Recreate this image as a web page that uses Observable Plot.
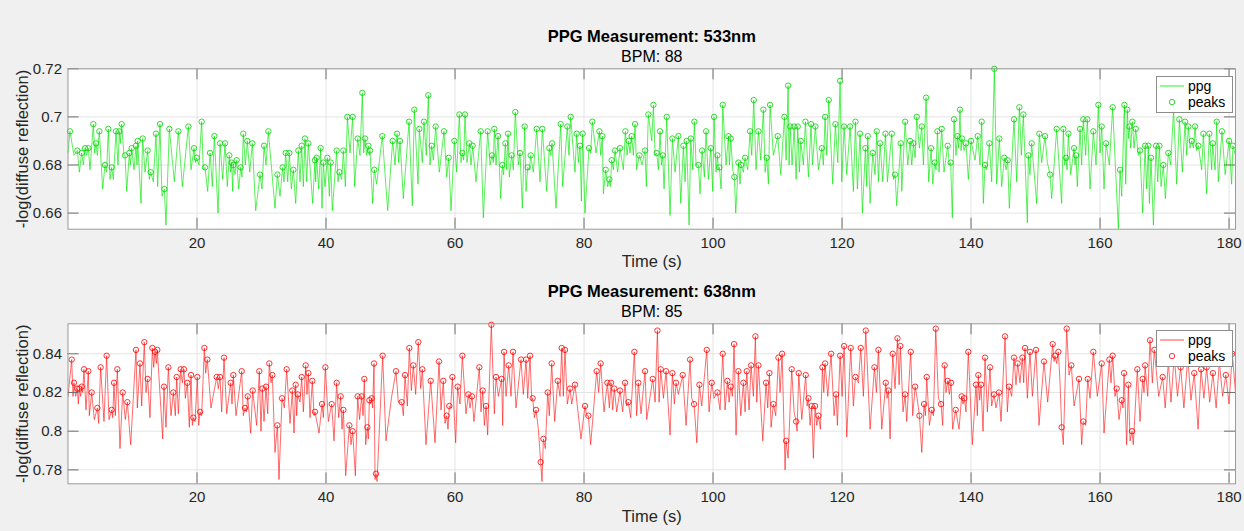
<!DOCTYPE html>
<html><head><meta charset="utf-8">
<script src="https://cdn.jsdelivr.net/npm/d3@7"></script>
<script src="https://cdn.jsdelivr.net/npm/@observablehq/plot@0.6"></script>
<style>
html,body{margin:0;padding:0;background:#f0f0f0;}
#wrap{position:relative;width:1244px;height:531px;background:#f0f0f0;overflow:hidden;}
#wrap > svg{position:absolute;left:0;}
</style></head><body><div id="wrap"></div>
<script>
// ---------- tick labels / text ----------
const xTicks = [20, 40, 60, 80, 100, 120, 140, 160, 180];
const yTicks533 = [0.66, 0.68, 0.70, 0.72];
const yTicks638 = [0.78, 0.80, 0.82, 0.84];
const titles = ["PPG Measurement: 533nm", "PPG Measurement: 638nm"];
const subtitles = ["BPM: 88", "BPM: 85"];
const xLabel = "Time (s)";
const yLabel = "-log(diffuse reflection)";
const legendNames = ["ppg", "peaks"];

// ---------- 533 nm : detected peaks ----------
const peakTime533 = [0.30,1.45,2.12,2.64,3.15,3.93,4.34,4.86,5.74,6.25,6.77,7.44,7.96,8.32,8.84,9.51,9.87,10.54,10.80,11.58,12.35,12.82,13.64,14.26,14.94,15.71,17.11,18.66,19.54,19.95,20.72,21.24,22.02,22.69,23.57,24.34,25.01,25.37,25.63,26.15,26.77,27.18,27.80,28.58,29.77,30.39,31.06,32.46,33.28,33.75,34.32,34.94,35.71,36.23,36.74,37.26,38.29,38.55,39.17,39.59,40.21,40.72,41.65,42.07,42.69,43.31,44.13,44.91,
45.63,46.05,46.56,46.82,47.49,48.73,50.33,51.01,51.47,52.87,53.69,54.47,55.19,55.86,56.38,57.00,58.29,59.02,59.90,60.67,61.14,61.55,62.22,62.74,63.98,65.06,65.74,66.10,66.67,67.34,67.80,68.22,68.78,69.35,70.08,70.80,71.27,71.73,72.66,73.54,74.62,75.04,76.38,77.41,77.93,78.86,79.38,79.79,80.77,81.29,82.38,82.84,83.36,83.93,84.29,84.81,85.58,86.41,86.92,87.39,87.91,88.58,89.46,89.97,
90.76,91.27,91.79,92.20,92.82,93.70,94.63,95.41,95.92,96.55,97.11,97.73,98.30,98.92,99.65,100.16,100.68,100.99,101.51,102.38,102.75,103.31,103.94,104.35,104.97,105.74,106.31,107.04,107.81,108.33,108.84,110.03,111.07,111.64,111.95,112.57,113.13,113.60,114.32,115.20,115.87,116.86,117.37,117.94,118.97,119.70,120.32,121.25,122.08,122.80,123.63,123.99,124.76,125.38,125.90,126.73,127.71,128.22,129.10,129.78,130.55,131.07,131.58,132.36,133.03,133.81,134.37,134.79,
135.45,136.38,136.84,137.36,137.88,138.29,138.60,139.22,140.00,141.03,141.65,142.17,142.84,143.61,144.39,145.16,145.68,146.66,147.49,148.11,148.89,149.40,150.59,151.47,152.25,153.28,154.31,154.73,155.09,155.97,156.28,156.90,157.41,158.03,158.96,159.74,160.26,160.93,161.96,163.10,163.77,164.23,164.55,165.01,165.53,166.20,166.98,167.49,167.90,168.68,169.20,169.82,170.59,171.40,172.30,173.18,173.69,174.21,174.73,175.24,176.02,176.95,177.47,178.09,178.90,180.00,180.60];
const peakValue533 = [.694,.686,.685,.687,.687,.697,.689,.694,.680,.695,.679,.694,.694,.697,.684,.685,.687,.688,.690,.691,.686,.677,.693,.697,.670,.695,.694,.696,.687,.683,.698,.679,.685,.692,.689,.689,.684,.681,.680,.682,.679,.693,.690,.689,.676,.688,.694,.676,.679,.685,.685,.678,.686,.688,.691,.689,.682,.683,.687,.681,.683,.681,.686,.677,.686,.700,.700,.691,
.710,.691,.688,.686,.678,.692,.690,.693,.690,.698,.703,.695,.698,.709,.688,.696,.694,.683,.690,.701,.685,.701,.689,.688,.694,.694,.684,.695,.692,.680,.689,.693,.684,.702,.685,.696,.679,.684,.695,.695,.687,.689,.697,.696,.700,.693,.688,.693,.687,.698,.694,.692,.678,.674,.682,.686,.687,.694,.690,.692,.697,.684,.686,.701,
.705,.685,.694,.684,.700,.691,.692,.688,.690,.691,.698,.680,.686,.694,.687,.700,.684,.679,.705,.692,.691,.675,.681,.680,.683,.694,.707,.694,.703,.683,.705,.692,.700,.713,.696,.696,.696,.690,.698,.697,.696,.687,.700,.707,.697,.715,.696,.696,.698,.693,.687,.692,.685,.694,.689,.693,.693,.676,.689,.698,.690,.689,.700,.696,.708,.687,.681,.694,
.695,.688,.681,.699,.692,.703,.691,.689,.690,.692,.698,.680,.689,.720,.691,.683,.682,.699,.704,.701,.684,.689,.693,.692,.676,.695,.695,.683,.693,.687,.684,.695,.699,.699,.694,.705,.696,.689,.704,.678,.705,.703,.696,.698,.695,.686,.688,.688,.683,.688,.688,.680,.685,.703,.699,.698,.696,.690,.696,.688,.693,.693,.689,.698,.694,.690,.688];

// ---------- 533 nm : valleys between peaks ----------
const valleyTime533 = [0.00,0.93,1.76,2.38,2.89,3.41,4.13,4.55,5.37,5.99,6.51,7.03,7.75,8.11,8.68,9.10,9.66,10.23,10.70,11.32,11.94,12.61,13.23,13.90,14.57,15.19,16.49,17.73,19.07,19.74,20.31,20.98,21.65,22.38,23.26,23.98,24.70,25.22,25.53,25.89,26.46,26.98,27.49,28.17,29.10,30.08,30.70,32.09,32.87,33.49,34.06,34.63,35.30,35.97,36.49,37.00,37.93,38.40,38.86,39.38,39.84,40.52,40.98,41.86,42.43,43.00,43.72,44.44,
45.27,45.84,46.30,46.72,47.23,47.85,49.56,50.70,51.27,51.99,53.38,54.26,54.93,55.55,56.12,56.64,57.57,58.71,59.38,60.26,60.93,61.34,61.86,62.48,63.25,64.39,65.43,65.94,66.36,67.08,67.54,68.01,68.42,69.04,69.82,70.44,71.01,71.52,72.14,73.18,74.21,74.83,75.66,76.69,77.67,78.60,79.12,79.59,80.15,81.03,81.86,82.58,83.00,83.67,84.08,84.55,85.22,86.10,86.67,87.13,87.65,88.16,88.99,89.66,
90.50,91.02,91.53,92.00,92.41,93.34,94.12,95.00,95.67,96.29,96.85,97.37,97.99,98.66,99.28,99.96,100.47,100.83,101.25,102.02,102.54,103.06,103.52,104.19,104.71,105.38,106.00,106.67,107.40,108.07,108.59,109.36,110.50,111.33,111.79,112.26,112.88,113.39,114.01,114.79,115.41,116.34,117.11,117.63,118.56,119.34,119.96,120.73,121.76,122.38,123.16,123.83,124.35,125.12,125.64,126.31,127.04,127.97,128.48,129.26,130.19,130.81,131.33,132.00,132.62,133.44,134.07,134.58,
135.04,135.81,136.64,137.10,137.67,138.08,138.45,138.91,139.58,140.62,141.39,141.91,142.43,143.20,143.98,144.75,145.42,145.94,147.08,147.80,148.73,149.14,150.18,150.95,151.83,152.50,154.05,154.52,154.88,155.45,156.12,156.48,157.15,157.77,158.45,159.38,160.00,160.62,161.44,162.84,163.36,163.98,164.39,164.75,165.27,165.94,166.61,167.23,167.65,168.27,168.94,169.46,170.13,170.95,171.88,172.76,173.43,173.95,174.47,174.98,175.76,176.53,177.31,177.83,178.34,179.40,180.40,181.00];
const valleyValue533 = [.685,.684,.677,.680,.684,.678,.685,.684,.670,.677,.674,.674,.680,.689,.684,.669,.680,.678,.680,.664,.677,.674,.673,.671,.667,.655,.673,.671,.678,.681,.680,.678,.669,.671,.660,.674,.671,.677,.669,.676,.670,.675,.680,.677,.661,.670,.680,.662,.667,.673,.673,.670,.664,.673,.671,.673,.664,.673,.670,.662,.671,.667,.661,.673,.674,.671,.685,.671,
.684,.685,.684,.684,.664,.672,.661,.680,.681,.666,.663,.672,.681,.684,.680,.682,.677,.675,.661,.677,.681,.682,.681,.680,.673,.658,.680,.681,.680,.666,.676,.678,.675,.678,.680,.662,.669,.678,.677,.673,.669,.684,.662,.671,.684,.677,.681,.665,.660,.685,.685,.684,.668,.671,.671,.678,.677,.678,.684,.685,.684,.678,.680,.671,
.690,.684,.678,.680,.670,.659,.677,.664,.673,.655,.678,.680,.668,.675,.674,.669,.677,.678,.670,.680,.680,.678,.660,.672,.677,.678,.684,.678,.682,.677,.672,.684,.676,.682,.680,.680,.674,.677,.680,.675,.680,.678,.680,.684,.672,.681,.673,.676,.669,.670,.660,.671,.664,.676,.673,.673,.673,.674,.663,.669,.680,.680,.683,.687,.680,.673,.672,.678,
.677,.677,.680,.658,.684,.687,.686,.686,.674,.682,.680,.664,.678,.673,.672,.671,.678,.662,.673,.684,.656,.676,.664,.681,.681,.666,.664,.680,.678,.676,.680,.671,.680,.684,.670,.680,.685,.670,.680,.653,.667,.672,.691,.687,.687,.684,.660,.670,.664,.655,.673,.671,.666,.680,.672,.677,.684,.687,.687,.686,.678,.668,.678,.678,.673,.676,.672,.684];

// ---------- 638 nm : detected peaks ----------
const peakTime638 = [0.57,0.93,1.45,1.76,2.12,2.48,3.15,3.67,4.55,5.06,5.99,6.77,7.13,7.65,8.48,9.20,10.54,11.16,11.83,12.35,13.08,13.49,13.85,14.88,15.56,16.33,16.85,17.47,17.98,18.50,19.07,19.43,20.05,20.47,21.14,21.60,23.05,23.57,24.19,25.22,25.63,26.93,27.44,27.86,28.63,29.66,30.13,30.70,31.21,31.68,32.46,33.18,33.90,34.78,35.30,35.61,36.23,36.85,37.26,37.88,38.29,39.38,39.90,40.88,41.65,42.27,42.69,43.62,44.13,44.91,
45.53,45.94,46.41,46.72,47.08,47.44,47.75,48.78,50.85,51.73,52.25,52.92,53.54,54.31,54.93,56.23,57.52,58.19,58.71,59.12,59.59,60.41,61.14,62.07,62.63,63.77,64.29,64.81,65.63,66.36,67.23,67.60,68.32,68.99,70.23,71.01,71.63,72.04,72.56,73.28,73.70,74.37,74.99,75.92,76.54,77.05,77.83,78.60,80.15,80.67,81.96,82.58,83.62,84.19,84.70,85.58,86.36,86.87,87.80,88.42,89.46,
90.65,91.38,91.89,92.72,93.70,94.27,95.30,96.44,97.06,97.89,99.03,99.80,100.68,101.51,102.23,102.75,103.26,103.94,104.71,105.23,105.90,106.57,107.04,108.22,108.74,109.36,110.14,110.71,111.33,112.20,112.88,113.29,114.37,114.79,115.30,115.82,116.34,116.96,117.37,118.30,119.08,119.70,120.32,121.35,122.08,122.90,123.68,125.02,125.64,126.78,127.19,127.86,128.59,129.05,129.78,130.65,131.33,132.00,132.72,133.13,133.91,134.53,
135.35,135.91,136.38,136.90,137.62,138.55,138.96,139.58,140.77,141.13,141.55,142.17,142.94,143.56,144.34,145.27,145.89,146.66,147.23,147.96,148.37,149.14,150.07,151.31,152.66,153.02,153.54,154.05,154.83,155.55,156.74,157.41,158.09,158.96,160.26,161.44,161.96,162.58,163.36,163.72,164.39,164.96,165.78,166.61,166.98,167.75,168.42,169.71,170.60,171.50,172.50,173.60,174.60,175.66,176.53,177.50,178.50,179.50,180.50];
const peakValue638 = [.837,.825,.822,.822,.823,.832,.831,.820,.812,.833,.839,.811,.825,.832,.820,.815,.842,.835,.846,.827,.843,.841,.842,.823,.833,.820,.828,.832,.832,.825,.829,.807,.828,.810,.843,.837,.828,.828,.838,.825,.829,.831,.812,.818,.821,.831,.822,.823,.835,.829,.803,.817,.832,.821,.824,.819,.828,.834,.830,.826,.810,.814,.833,.814,.825,.818,.811,.803,.800,.818,
.818,.827,.802,.816,.817,.835,.778,.839,.831,.815,.829,.843,.834,.846,.832,.826,.836,.826,.808,.813,.828,.823,.839,.819,.818,.833,.821,.813,.855,.828,.827,.841,.834,.841,.837,.837,.839,.817,.811,.784,.796,.820,.835,.826,.843,.842,.822,.824,.813,.808,.831,.835,.825,.825,.822,.821,.825,.815,.841,.825,.831,
.827,.852,.832,.831,.830,.825,.829,.837,.814,.824,.842,.825,.820,.840,.826,.823,.845,.831,.825,.831,.834,.849,.834,.825,.830,.814,.838,.840,.795,.832,.805,.830,.829,.817,.813,.813,.808,.833,.835,.840,.819,.839,.844,.843,.828,.843,.852,.833,.842,.825,.821,.840,.848,.844,.819,.841,.823,.808,.814,.828,.811,.853,
.814,.834,.826,.825,.811,.818,.817,.841,.824,.829,.824,.838,.833,.819,.820,.849,.823,.838,.835,.838,.843,.841,.842,.836,.845,.839,.841,.802,.853,.834,.827,.805,.827,.841,.835,.837,.839,.822,.816,.830,.824,.800,.832,.827,.834,.847,.842,.828,.836,.839,.833,.838,.830,.832,.833,.830,.836,.829,.840];

// ---------- 638 nm : valleys between peaks ----------
const valleyTime638 = [0.00,0.78,1.19,1.60,1.96,2.27,2.79,3.31,4.08,4.75,5.58,6.36,6.93,7.34,8.06,8.89,9.72,10.75,11.42,12.09,12.71,13.28,13.70,14.68,15.19,15.97,16.64,17.11,17.73,18.19,18.81,19.28,19.69,20.26,20.72,21.34,22.17,23.31,23.82,24.60,25.43,26.05,27.18,27.65,28.32,29.25,29.92,30.39,30.96,31.47,32.09,32.71,33.54,34.42,35.04,35.45,35.97,36.49,37.05,37.52,38.14,38.92,39.59,40.36,41.24,41.96,42.48,43.05,43.88,44.55,45.20,
45.74,46.15,46.56,46.87,47.23,47.60,47.91,49.30,50.18,51.21,51.99,52.61,53.23,53.90,54.68,55.50,56.90,57.83,58.45,58.91,59.33,60.10,60.77,61.70,62.32,62.94,64.03,64.55,65.06,66.10,66.72,67.39,67.91,68.68,69.46,70.59,71.27,71.89,72.30,72.92,73.49,74.00,74.62,75.45,76.28,76.79,77.41,78.09,79.53,80.41,81.03,82.27,83.10,83.93,84.44,85.06,85.99,86.61,87.23,88.16,88.84,89.72,
91.02,91.64,92.31,93.34,94.01,94.63,95.82,96.70,97.48,98.25,99.39,100.16,101.09,101.87,102.49,103.01,103.57,104.30,104.97,105.59,106.26,106.78,107.71,108.48,109.00,109.72,110.40,111.17,111.64,112.57,113.03,113.76,114.58,115.05,115.56,116.08,116.65,117.17,117.79,118.77,119.28,120.01,120.73,121.76,122.54,123.31,124.35,125.33,126.16,126.98,127.45,128.22,128.85,129.46,130.03,130.96,131.64,132.36,132.93,133.55,134.17,134.94,
135.60,136.12,136.64,137.15,138.14,138.76,139.22,140.20,140.98,141.34,141.86,142.53,143.20,143.87,144.65,145.63,146.30,146.97,147.59,148.16,148.73,149.51,150.54,151.88,152.87,153.28,153.80,154.31,155.19,155.97,157.15,157.77,158.45,159.58,160.62,161.70,162.32,162.94,163.56,164.13,164.65,165.16,166.20,166.82,167.39,168.11,169.09,170.10,171.00,172.00,173.00,174.10,175.20,176.10,177.00,178.00,179.00,180.00,181.00];
const valleyValue638 = [.818,.818,.818,.814,.818,.820,.811,.808,.806,.804,.805,.806,.807,.808,.791,.806,.793,.812,.813,.820,.807,.833,.835,.796,.802,.808,.808,.809,.825,.817,.802,.803,.805,.803,.808,.830,.812,.822,.810,.809,.814,.808,.808,.810,.799,.803,.800,.805,.809,.825,.789,.775,.812,.804,.799,.808,.815,.810,.819,.807,.808,.799,.807,.805,.795,.807,.801,.777,.793,.777,.806,
.808,.793,.796,.814,.812,.775,.774,.795,.818,.815,.808,.813,.821,.819,.822,.793,.794,.811,.804,.801,.812,.794,.814,.809,.812,.805,.810,.803,.798,.809,.818,.803,.818,.818,.812,.819,.817,.816,.807,.801,.774,.791,.808,.805,.818,.818,.814,.814,.796,.808,.793,.820,.810,.812,.811,.810,.810,.813,.807,.808,.809,.806,
.815,.815,.817,.798,.814,.819,.803,.817,.794,.813,.810,.817,.811,.811,.815,.818,.798,.808,.810,.811,.818,.815,.795,.812,.802,.808,.820,.780,.786,.810,.800,.806,.813,.803,.786,.803,.801,.820,.818,.808,.803,.818,.797,.813,.825,.818,.801,.820,.801,.817,.796,.822,.824,.810,.805,.808,.817,.789,.808,.803,.808,.817,
.803,.820,.819,.801,.801,.814,.810,.793,.808,.816,.800,.810,.813,.812,.805,.810,.818,.824,.825,.825,.817,.818,.803,.815,.836,.835,.825,.793,.829,.813,.793,.803,.817,.818,.799,.825,.818,.806,.812,.793,.795,.793,.805,.820,.818,.825,.818,.812,.815,.818,.812,.816,.801,.817,.815,.812,.818,.814,.820];

// ---------- build ----------
const FONT = "'Liberation Sans', Arial, Helvetica, sans-serif";
const W = 1244, ML = 67.5, MR = 9;
const wrap = document.getElementById("wrap");

function rowsOf(ts, vs) { return ts.map((t, i) => ({t, v: vs[i]})); }

function chart(o) {
  const peaks = rowsOf(o.pt, o.pv);
  const series = peaks.concat(rowsOf(o.vt, o.vv)).sort((a, b) => a.t - b.t);
  const fh = o.height - o.mt - o.mb;
  const fw = W - ML - MR;
  const tickStroke = "#6e6e6e";
  const svg = Plot.plot({
    width: W, height: o.height,
    marginLeft: ML, marginRight: MR, marginTop: o.mt, marginBottom: o.mb,
    style: {background: "transparent", fontFamily: FONT, fontSize: "15px", color: "#262626", overflow: "visible"},
    x: {domain: [0, 181], ticks: xTicks, tickSize: 0, tickPadding: 8, label: null, tickFormat: d => String(d)},
    y: {domain: o.ydom, ticks: o.yticks, tickSize: 0, tickPadding: 6, label: null, tickFormat: d3.format("~g")},
    marks: [
      Plot.frame({fill: "white", stroke: null}),
      Plot.ruleX(xTicks, {x: d => d, stroke: "#e4e4e4", strokeWidth: 1}),
      Plot.ruleY(o.yticks, {y: d => d, stroke: "#e4e4e4", strokeWidth: 1}),
      Plot.line(series, {x: "t", y: "v", stroke: o.color, strokeWidth: 0.65, clip: true}),
      Plot.dot(peaks, {x: "t", y: "v", r: 2.7, stroke: o.dotColor, strokeWidth: 0.8, fill: "none"}),
      Plot.tickX(xTicks, {x: d => d, insetTop: fh - 11, stroke: tickStroke}),
      Plot.tickX(xTicks, {x: d => d, insetBottom: fh - 11, stroke: tickStroke}),
      Plot.tickY(o.yticks, {y: d => d, insetRight: fw - 11, stroke: tickStroke}),
      Plot.tickY(o.yticks, {y: d => d, insetLeft: fw - 11, stroke: tickStroke}),
      Plot.frame({stroke: "#9a9a9a", strokeWidth: 1}),
      Plot.text([o.title], {text: d => d, frameAnchor: "top", lineAnchor: "middle", dy: -32, fontWeight: "bold", fontSize: 16.5, fill: "#000"}),
      Plot.text([o.sub], {text: d => d, frameAnchor: "top", lineAnchor: "middle", dy: -12, fontSize: 16, fill: "#000"}),
      Plot.text([xLabel], {text: d => d, frameAnchor: "bottom", lineAnchor: "middle", dy: 33, fontSize: 16.5}),
      Plot.text([yLabel], {text: d => d, frameAnchor: "left", textAnchor: "middle", lineAnchor: "middle", dx: -45, rotate: -90, fontSize: 16.5})
    ]
  });
  svg.style.top = o.top + "px";
  // legend box
  const g = d3.select(svg).append("g").attr("font-family", FONT).attr("font-size", 14)
    .attr("fill", "#000").attr("text-anchor", "start");
  const y0 = o.legendY;
  g.append("rect").attr("x", 1156.5).attr("y", y0 + 0.5).attr("width", 76).attr("height", 36)
    .attr("fill", "white").attr("stroke", "#8c8c8c");
  g.append("line").attr("x1", 1160).attr("x2", 1184).attr("y1", y0 + 10).attr("y2", y0 + 10)
    .attr("stroke", o.color).attr("stroke-width", 0.8);
  g.append("text").attr("x", 1188).attr("y", y0 + 10).attr("dy", "0.35em").attr("text-anchor", "start").text(legendNames[0]);
  g.append("circle").attr("cx", 1172).attr("cy", y0 + 26).attr("r", 2.7).attr("fill", "none")
    .attr("stroke", o.dotColor).attr("stroke-width", 0.8);
  g.append("text").attr("x", 1188).attr("y", y0 + 26).attr("dy", "0.35em").attr("text-anchor", "start").text(legendNames[1]);
  wrap.appendChild(svg);
}

chart({top: 0, height: 270, mt: 68.3, mb: 41.3, ydom: [0.6533, 0.72], yticks: yTicks533,
  pt: peakTime533, pv: peakValue533, vt: valleyTime533, vv: valleyValue533,
  color: "#00e600", dotColor: "#00d000", title: titles[0], sub: subtitles[0], legendY: 76});
chart({top: 270, height: 261, mt: 53.3, mb: 47.7, ydom: [0.7728, 0.8555], yticks: yTicks638,
  pt: peakTime638, pv: peakValue638, vt: valleyTime638, vv: valleyValue638,
  color: "#ff1a1a", dotColor: "#ff0000", title: titles[1], sub: subtitles[1], legendY: 60});
</script></body></html>
